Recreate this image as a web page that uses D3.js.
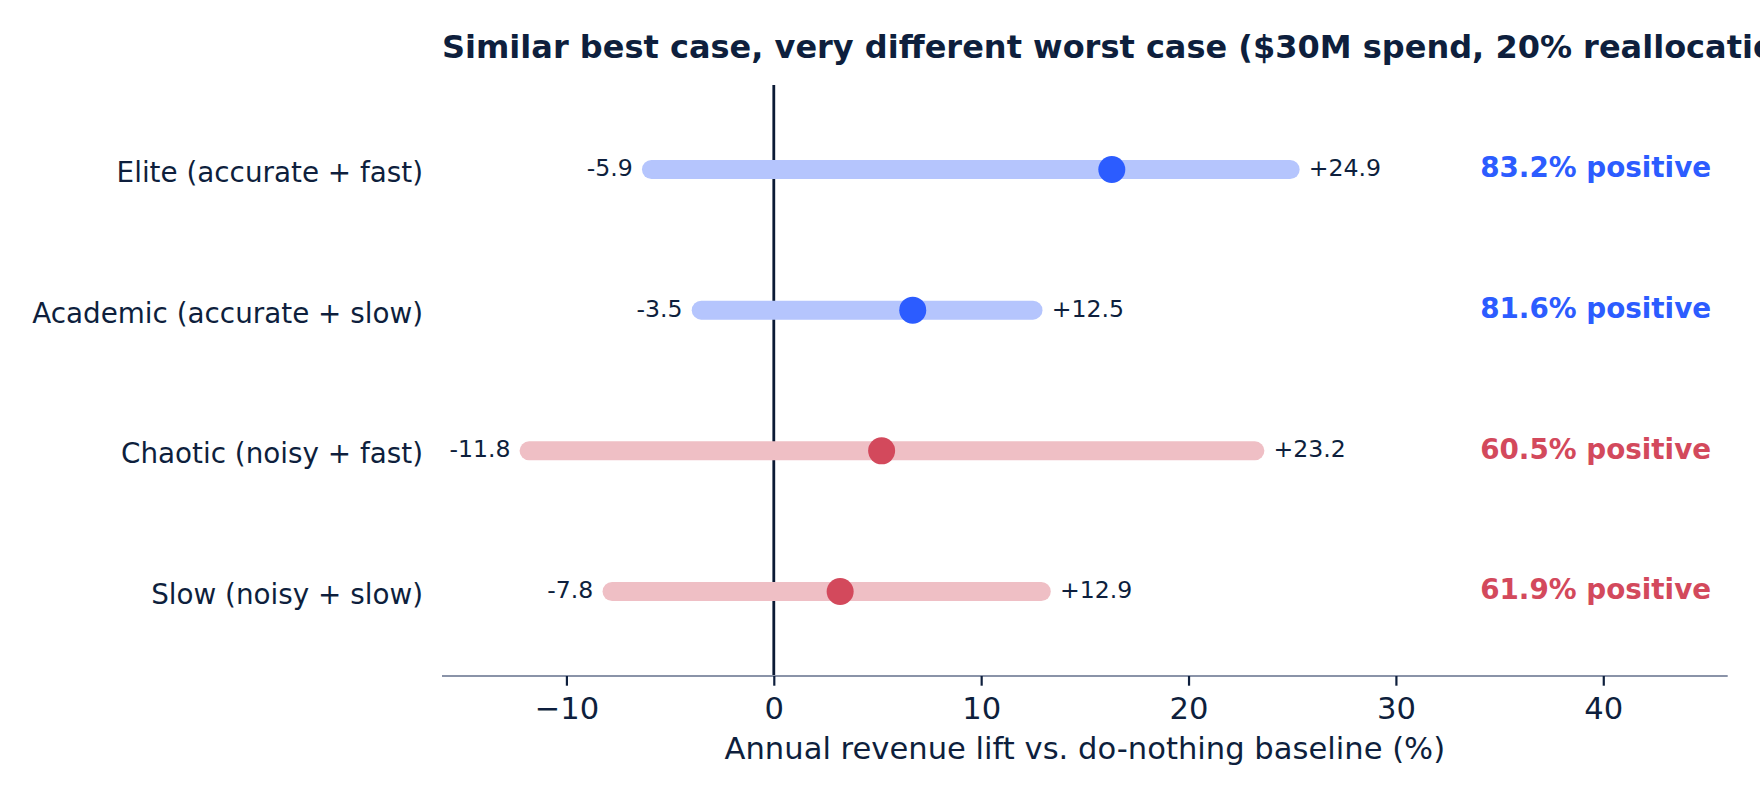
<!DOCTYPE html>
<html>
<head>
<meta charset="utf-8">
<script src="https://cdn.jsdelivr.net/npm/d3@7"></script>
<style>
  body { margin: 0; background: #fff; }
  svg { display: block; font-family: "DejaVu Sans", sans-serif; }
</style>
</head>
<body>
<svg id="chart" width="1760" height="800"></svg>
<script>
(function () {
    'use strict';

    var categories = ["Elite (accurate + fast)", "Academic (accurate + slow)",
                      "Chaotic (noisy + fast)", "Slow (noisy + slow)"];
    var lows = [-5.9, -3.5, -11.8, -7.8];
    var highs = [24.9, 12.5, 23.2, 12.9];
    var medians = [16.3, 6.7, 5.2, 3.2];
    var positiveShare = [83.2, 81.6, 60.5, 61.9];
    var groups = ["accurate", "accurate", "noisy", "noisy"];
    var xTicks = [-10, 0, 10, 20, 30, 40];

    var ink = "#0e1f3d",
        colours = {
            accurate: { bar: "#b5c5fd", dot: "#2c5cff" },
            noisy: { bar: "#efbfc5", dot: "#d3495c" }
        };

    var rows = categories.map(function (c, i) {
        return { name: c, lo: lows[i], hi: highs[i], mid: medians[i],
                 pos: positiveShare[i], group: groups[i], idx: i };
    });

    var left = 442, right = 1727.7, top = 85, bottom = 676;

    var x = d3.scaleLinear().domain([-16, 46]).range([left, right]);
    var y = d3.scaleLinear().domain([-0.6, 3.6]).range([top, bottom]);

    var svg = d3.select("#chart");

    // title, left aligned with the plot area
    svg.append("text")
        .attr("x", left)
        .attr("y", 58)
        .attr("fill", ink)
        .attr("font-size", "32px")
        .attr("font-weight", "bold")
        .text("Similar best case, very different worst case ($30M spend, 20% reallocation)");

    // zero reference line
    svg.append("line")
        .attr("x1", x(0)).attr("x2", x(0))
        .attr("y1", top).attr("y2", bottom)
        .attr("stroke", "#0b1a35")
        .attr("stroke-width", 2.8);

    // x axis
    var axis = svg.append("g")
        .attr("transform", "translate(0," + bottom + ")")
        .call(d3.axisBottom(x).tickValues(xTicks).tickSize(9.7).tickPadding(8));
    axis.select(".domain")
        .attr("stroke", "#8a93a8")
        .attr("stroke-width", 2.2)
        .attr("d", "M" + left + ",0H" + right);
    axis.selectAll(".tick line").attr("stroke", ink).attr("stroke-width", 2.2);
    axis.selectAll(".tick text")
        .attr("fill", ink)
        .attr("font-size", "30.6px")
        .attr("font-family", "DejaVu Sans, sans-serif")
        .attr("dy", null)
        .attr("y", 43);

    svg.append("text")
        .attr("x", (left + right) / 2)
        .attr("y", 759)
        .attr("text-anchor", "middle")
        .attr("fill", ink)
        .attr("font-size", "30.6px")
        .text("Annual revenue lift vs. do-nothing baseline (%)");

    // category labels
    svg.selectAll("text.cat")
        .data(rows)
        .enter()
        .append("text")
        .attr("class", "cat")
        .attr("x", left - 19)
        .attr("y", function (d) { return y(d.idx); })
        .attr("dy", "0.45em")
        .attr("text-anchor", "end")
        .attr("fill", ink)
        .attr("font-size", "27.8px")
        .text(function (d) { return d.name; });

    // range bars
    svg.selectAll("line.range")
        .data(rows)
        .enter()
        .append("line")
        .attr("class", "range")
        .attr("x1", function (d) { return x(d.lo); })
        .attr("x2", function (d) { return x(d.hi); })
        .attr("y1", function (d) { return y(d.idx); })
        .attr("y2", function (d) { return y(d.idx); })
        .attr("stroke", function (d) { return colours[d.group].bar; })
        .attr("stroke-width", 19)
        .attr("stroke-linecap", "round");

    // medians
    svg.selectAll("circle.mid")
        .data(rows)
        .enter()
        .append("circle")
        .attr("class", "mid")
        .attr("cx", function (d) { return x(d.mid); })
        .attr("cy", function (d) { return y(d.idx); })
        .attr("r", 13.5)
        .attr("fill", function (d) { return colours[d.group].dot; });

    var fmt = d3.format("+.1f");

    svg.selectAll("text.lo")
        .data(rows)
        .enter()
        .append("text")
        .attr("class", "lo")
        .attr("x", function (d) { return x(d.lo - 0.9); })
        .attr("y", function (d) { return y(d.idx); })
        .attr("dy", "0.28em")
        .attr("text-anchor", "end")
        .attr("fill", ink)
        .attr("font-size", "23.6px")
        .text(function (d) { return fmt(d.lo).replace("−", "-"); });

    svg.selectAll("text.hi")
        .data(rows)
        .enter()
        .append("text")
        .attr("class", "hi")
        .attr("x", function (d) { return x(d.hi + 0.9); })
        .attr("y", function (d) { return y(d.idx); })
        .attr("dy", "0.28em")
        .attr("fill", ink)
        .attr("font-size", "23.6px")
        .text(function (d) { return fmt(d.hi); });

    svg.selectAll("text.pos")
        .data(rows)
        .enter()
        .append("text")
        .attr("class", "pos")
        .attr("x", x(45.2))
        .attr("y", function (d) { return y(d.idx); })
        .attr("dy", "0.28em")
        .attr("text-anchor", "end")
        .attr("fill", function (d) { return colours[d.group].dot; })
        .attr("font-size", "27.8px")
        .attr("font-weight", "bold")
        .text(function (d) { return d.pos.toFixed(1) + "% positive"; });
})();
</script>
</body>
</html>
